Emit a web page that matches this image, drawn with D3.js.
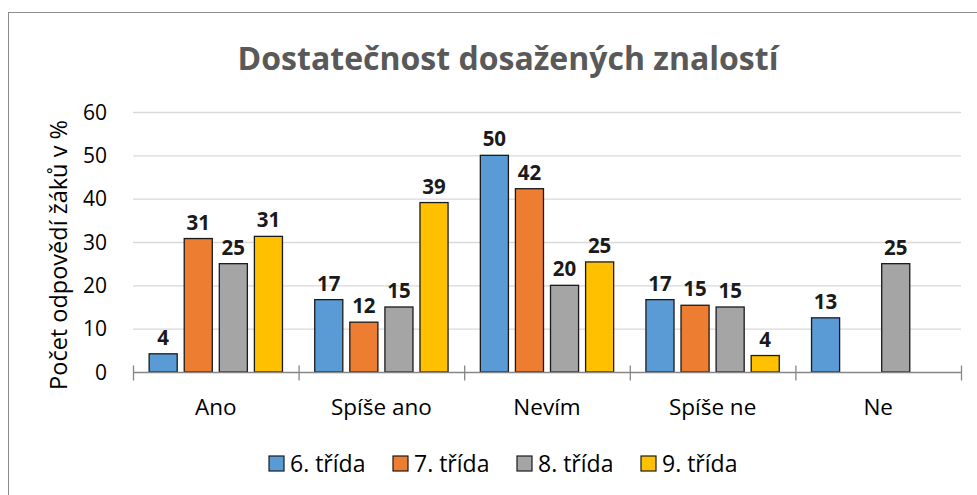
<!DOCTYPE html>
<html>
<head>
<meta charset="utf-8">
<script src="https://cdn.jsdelivr.net/npm/d3@7"></script>
<style>
  body { margin: 0; background: #fff; }
  svg { display: block; font-family: "Open Sans", sans-serif; }
</style>
</head>
<body>
<div id="chart"></div>
<script>
// Chart data
const categories = ["Ano", "Spíše ano", "Nevím", "Spíše ne", "Ne"];
const seriesNames = ["6. třída", "7. třída", "8. třída", "9. třída"];
const colors = ["#5B9BD5", "#ED7D31", "#A5A5A5", "#FFC000"];
// values per class (in order of categories); null = no answer
const trida6 = [4.2, 16.7, 50, 16.7, 12.5];
const trida7 = [30.8, 11.5, 42.3, 15.4, null];
const trida8 = [25, 15, 20, 15, 25];
const trida9 = [31.3, 39.1, 25.4, 3.8, null];
const yTicks = [0, 10, 20, 30, 40, 50, 60];

const seriesValues = [trida6, trida7, trida8, trida9];

const W = 977, H = 495;
const margin = { left: 133, right: 16, top: 112, bottom: 123 };

const svg = d3.select("#chart").append("svg")
  .attr("width", W)
  .attr("height", H);

// chart area border
svg.append("rect")
  .attr("x", 8.5).attr("y", 12.5)
  .attr("width", 980).attr("height", 500)
  .attr("fill", "none")
  .attr("stroke", "#8c8c8c")
  .attr("stroke-width", 1);

svg.append("text")
  .attr("x", 508).attr("y", 70)
  .attr("text-anchor", "middle")
  .attr("font-size", 32)
  .attr("font-weight", "bold")
  .attr("fill", "#595959")
  .text("Dostatečnost dosažených znalostí");

const x0 = d3.scaleBand()
  .domain(categories)
  .range([margin.left, W - margin.right]);

const x1 = d3.scaleBand()
  .domain(d3.range(seriesNames.length))
  .range([0, x0.bandwidth()])
  .paddingInner(0.2)
  .paddingOuter(0.46);

const y = d3.scaleLinear()
  .domain([0, 60])
  .range([H - margin.bottom, margin.top]);

// gridlines
svg.append("g")
  .selectAll("line")
  .data(yTicks.filter(d => d > 0))
  .join("line")
  .attr("x1", margin.left).attr("x2", W - margin.right)
  .attr("y1", d => y(d) + 0.5).attr("y2", d => y(d) + 0.5)
  .attr("stroke", "#d9d9d9")
  .attr("stroke-width", 1.3);

// y tick labels
svg.append("g")
  .selectAll("text")
  .data(yTicks)
  .join("text")
  .attr("x", 107)
  .attr("y", d => y(d))
  .attr("dy", "0.36em")
  .attr("text-anchor", "end")
  .attr("font-size", 21)
  .attr("fill", "#000")
  .text(d => d);

// y axis title
svg.append("text")
  .attr("transform", `translate(67,255) rotate(-90)`)
  .attr("text-anchor", "middle")
  .attr("font-size", 23.5)
  .attr("fill", "#000")
  .text("Počet odpovědí žáků v %");

// bars
const groups = svg.append("g")
  .selectAll("g")
  .data(seriesNames)
  .join("g")
  .attr("fill", (d, i) => colors[i]);

groups.each(function(name, si) {
  const pts = categories.map((c, ci) => ({ c, v: seriesValues[si][ci] }))
    .filter(p => p.v != null);
  const g = d3.select(this);
  g.selectAll("rect")
    .data(pts)
    .join("rect")
    .attr("x", p => x0(p.c) + x1(si))
    .attr("width", x1.bandwidth())
    .attr("y", p => y(p.v))
    .attr("height", p => y(0) - y(p.v))
    .attr("stroke", "#1a1a1a")
    .attr("stroke-width", 1.3);
  g.selectAll("text")
    .data(pts)
    .join("text")
    .attr("x", p => x0(p.c) + x1(si) + x1.bandwidth() / 2)
    .attr("y", p => y(p.v) - 9)
    .attr("text-anchor", "middle")
    .attr("font-size", 20.5)
    .attr("font-weight", "bold")
    .attr("fill", "#1a1a1a")
    .text(p => Math.round(p.v));
});

// x axis
const axisY = y(0) + 0.5;
svg.append("line")
  .attr("x1", margin.left).attr("x2", W - margin.right)
  .attr("y1", axisY).attr("y2", axisY)
  .attr("stroke", "#868686")
  .attr("stroke-width", 1.3);

const bounds = categories.map(c => x0(c)).concat([x0.range()[1]]);
svg.append("g")
  .selectAll("line")
  .data(bounds)
  .join("line")
  .attr("x1", d => d + 0.5).attr("x2", d => d + 0.5)
  .attr("y1", axisY - 7).attr("y2", axisY + 8)
  .attr("stroke", "#868686")
  .attr("stroke-width", 1.3);

svg.append("g")
  .selectAll("text")
  .data(categories)
  .join("text")
  .attr("x", d => x0(d) + x0.bandwidth() / 2)
  .attr("y", 415)
  .attr("text-anchor", "middle")
  .attr("font-size", 22.5)
  .attr("fill", "#000")
  .text(d => d);

// legend
const legend = svg.append("g")
  .selectAll("g")
  .data(seriesNames)
  .join("g")
  .attr("transform", (d, i) => `translate(${269 + i * 124},456)`);

legend.append("rect")
  .attr("width", 15).attr("height", 15)
  .attr("fill", (d, i) => colors[i])
  .attr("stroke", "#1a1a1a")
  .attr("stroke-width", 1.2);

legend.append("text")
  .attr("x", 21).attr("y", 16)
  .attr("font-size", 23)
  .attr("fill", "#000")
  .text(d => d);
</script>
</body>
</html>
